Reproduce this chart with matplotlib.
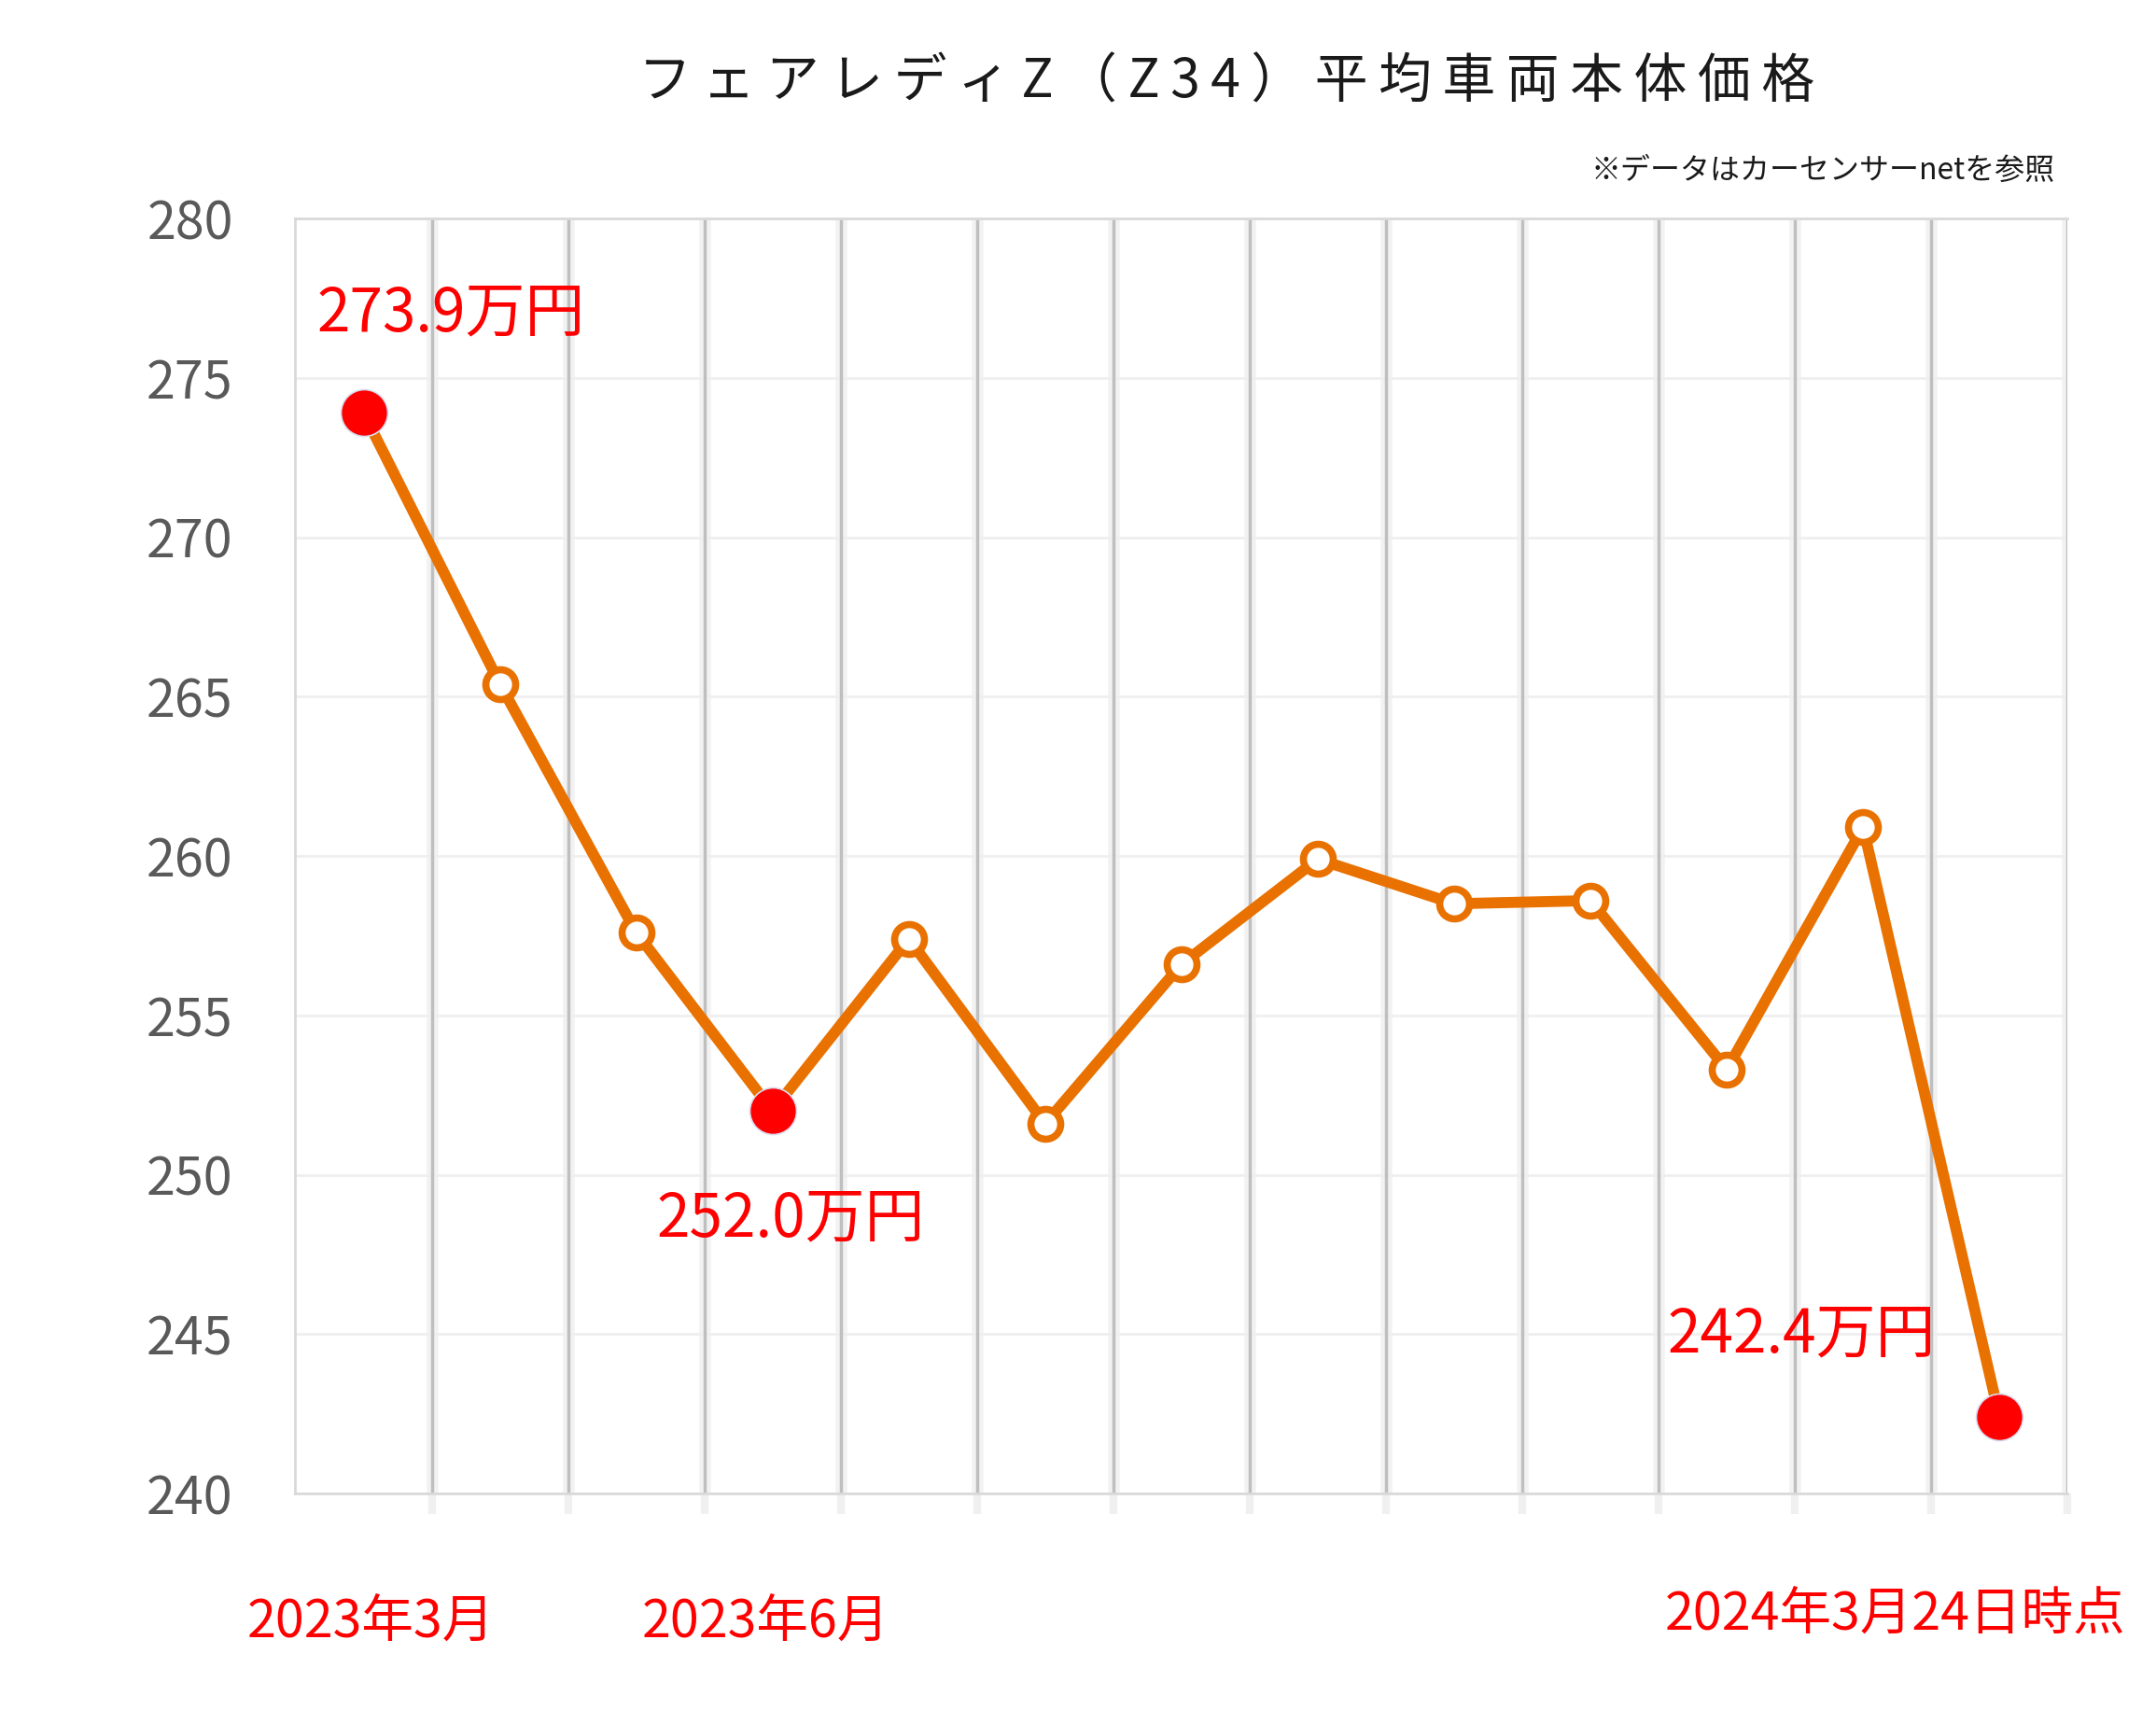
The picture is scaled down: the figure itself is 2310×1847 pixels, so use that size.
import matplotlib.pyplot as plt
from matplotlib.ticker import FixedLocator

plt.rcParams['font.family'] = ['Noto Sans CJK JP', 'DejaVu Sans']

# data
months = ['2023-03', '2023-04', '2023-05', '2023-06', '2023-07', '2023-08', '2023-09',
          '2023-10', '2023-11', '2023-12', '2024-01', '2024-02', '2024-03']
prices = [273.9, 265.4, 257.6, 252.0, 257.4, 251.6, 256.6, 259.9, 258.5, 258.6, 253.3, 260.9, 242.4]
highlight_idx = [0, 3, 12]
highlight_labels = ['273.9万円', '252.0万円', '242.4万円']
date_idx = [0, 3, 12]
date_labels = ['2023年3月', '2023年6月', '2024年3月24日時点']
y_ticks = [240, 245, 250, 255, 260, 265, 270, 275, 280]

title = 'フェアレディZ（Z34）平均車両本体価格'
note = '※データはカーセンサーnetを参照'

orange = '#E97100'
red = '#FF0000'

fig = plt.figure(figsize=(23.1, 18.47), dpi=100)
ax = fig.add_axes([0.137, 0.1337, 0.822, 0.7396])

x = list(range(len(months)))
ax.plot(x, prices, color=orange, lw=8.5, zorder=3, solid_capstyle='round')
ax.plot(x, prices, ls='none', marker='o', ms=23, mfc='white', mec=orange, mew=5.5, zorder=4)
ax.plot([x[i] for i in highlight_idx], [prices[i] for i in highlight_idx], ls='none',
        marker='o', ms=36, mfc=red, mec='#D8DCF0', mew=1.2, zorder=5)

ax.set_xlim(-0.5, len(months) - 0.5)
ax.set_ylim(240, 280)
ax.set_yticks(y_ticks)
ax.tick_params(axis='y', length=0, pad=48, labelsize=40, labelcolor='#595959')
ax.yaxis.grid(True, color='#EFEFEF', lw=2, zorder=0)

# vertical lines at category boundaries
bounds = [i + 0.5 for i in range(len(months))]
ax.xaxis.set_major_locator(FixedLocator(bounds))
ax.set_xticklabels([])
ax.tick_params(axis='x', length=16, width=6, color='#F0F0F0', direction='out')
for b in bounds:
    ax.axvline(b, color='#F2F2F2', lw=9, zorder=1)
    ax.axvline(b, color='#BFBFBF', lw=2.5, zorder=2)

for s in ['top', 'bottom', 'left']:
    ax.spines[s].set_color('#D9D9D9')
    ax.spines[s].set_linewidth(2)
ax.spines['right'].set_visible(False)

# value labels
offsets = [(94, 106), (19, -116), (-212, 88)]
for i, lab, off in zip(highlight_idx, highlight_labels, offsets):
    ax.annotate(lab, (x[i], prices[i]), xytext=off, textcoords='offset pixels',
                ha='center', va='center', color=red, fontsize=46, zorder=6)

# date labels under the axis
date_offsets = [(8, -139), (-7, -139), (-112, -131)]
for i, lab, off in zip(date_idx, date_labels, date_offsets):
    ax.annotate(lab, (x[i], 240), xytext=off, textcoords='offset pixels',
                ha='center', va='center', color=red, fontsize=40, annotation_clip=False)

# title drawn with a bit of letter spacing
spaced_title = '\u2009'.join(title)
fig.text(0.569, 0.952, spaced_title, ha='center', va='center', fontsize=41, color='#1A1A1A')
fig.text(0.953, 0.901, note, ha='right', va='center', fontsize=23, color='#1A1A1A')

fig.savefig('out.png', dpi=100, facecolor='white')
